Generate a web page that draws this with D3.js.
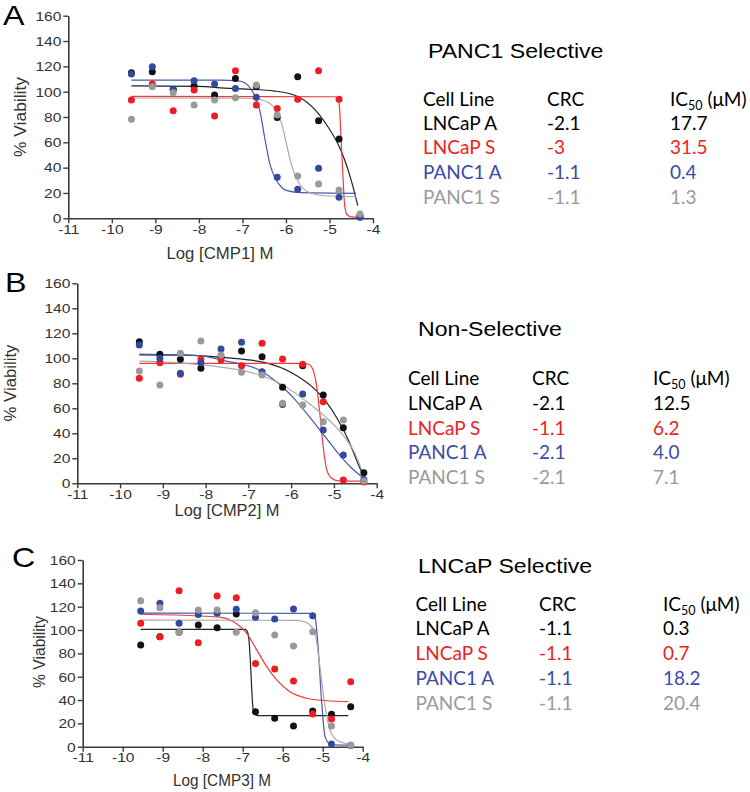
<!DOCTYPE html>
<html><head><meta charset="utf-8">
<script src="https://cdn.jsdelivr.net/npm/d3@7"></script>
<style>body{margin:0;background:#fff}svg{display:block}</style>
</head><body>
<svg id="chart" width="750" height="792"></svg>
<script>
// ---------------- DATA ----------------
const logConc = [-9.55, -9.07, -8.59, -8.11, -7.64, -7.16, -6.68, -6.2, -5.73, -5.25, -4.78, -4.3];
const cellLines = ["LNCaP A", "LNCaP S", "PANC1 A", "PANC1 S"];
const yTicks = [0, 20, 40, 60, 80, 100, 120, 140, 160];
const xTicks = [-11, -10, -9, -8, -7, -6, -5, -4];
const compounds = ["CMP1", "CMP2", "CMP3"];
const panelLetters = ["A", "B", "C"];
const tableTitles = ["PANC1 Selective", "Non-Selective", "LNCaP Selective"];

// Panel A (CMP1) measured viability
const lncapA_A = [115, 115.8, 101.8, 104.4, 97.3, 110.5, 104, 79.7, 111.8, 77.1, 62.6, 2];
const lncapS_A = [93.4, 106, 85, 101.3, 80.8, 116.5, 89.4, 86.8, 94, 116.5, 94, 1];
const panc1A_A = [114, 119.7, 101.8, 108.6, 106, 102.6, 95.5, 32.4, 22.9, 39.5, 16.6, 0.8];
const panc1S_A = [78.2, 103.9, 99.2, 89.4, 93.4, 95.2, 105.2, 81.6, 33.4, 27.1, 22.3, 3.4];
// Panel B (CMP2)
const lncapA_B = [113.3, 103.2, 99.2, 92, 101, 105.8, 101.3, 76.8, 94, 70.6, 44.5, 8.5];
const lncapS_B = [84, 96.5, 87.2, 99, 98.7, 94.1, 112, 99.4, 95.2, 65.3, 2.6, 1];
const panc1A_B = [110.7, 100, 88, 96.5, 107.5, 112.8, 89.3, 63, 71.4, 42.6, 22.6, 3];
const panc1S_B = [89.9, 78.7, 104, 113.9, 102.7, 88.8, 86.6, 64, 62.6, 49.3, 50.6, 1.8];
// Panel C (CMP3)
const lncapA_C = [87.1, 94.3, 98, 104.3, 102, 113.7, 30, 24.3, 17.7, 30.6, 27.8, 34.3];
const lncapS_C = [105.7, 94.3, 133.7, 89.1, 129.1, 127.7, 71.4, 66.6, 56.3, 28, 23.7, 55.7];
const panc1A_C = [116.3, 122.9, 105.7, 113.4, 114.3, 117.7, 110.9, 109.4, 118, 112.3, 2.3, 1];
const panc1S_C = [125.1, 119.1, 98, 117.1, 117.1, 98, 114.8, 95.7, 86.3, 98.6, 17.7, 1.4];

// Fitted curves as [logConc, viability]
const fitLncapA_A = [[-9.55,104.6],[-8,104.2],[-7.41,102.8],[-6.9,102],[-6.26,100.5],[-5.72,96],[-5.34,86],[-5.04,72.5],[-4.81,59],[-4.65,46],[-4.5,30],[-4.35,10]];
const fitLncapS_A = [[-9.55,96.3],[-4.86,96],[-4.8,94.5],[-4.77,88],[-4.73,60],[-4.69,33],[-4.65,10],[-4.6,3],[-4.5,1.2],[-4.35,1]];
const fitPanc1A_A = [[-9.55,109.2],[-7.5,109.1],[-7.1,108.5],[-6.95,107],[-6.8,102],[-6.72,97],[-6.6,85],[-6.49,64],[-6.37,43],[-6.22,30],[-6.1,24.5],[-5.99,22],[-5.65,20.2],[-4.39,19.7]];
const fitPanc1S_A = [[-9.55,95],[-6.9,94.8],[-6.56,93.5],[-6.4,91.5],[-6.26,87],[-6.1,75],[-5.99,59],[-5.88,43],[-5.72,29],[-5.5,21],[-5.11,17.8],[-4.39,17]];

const fitLncapA_B = [[-9.55,102.8],[-8.5,102.5],[-7.55,100.5],[-6.61,96.5],[-5.99,88.5],[-5.52,77.5],[-5.21,66.5],[-4.9,50.5],[-4.66,34.5],[-4.47,18.5],[-4.35,9]];
const fitLncapS_B = [[-9.55,96],[-5.72,96],[-5.6,95.2],[-5.52,93],[-5.4,77],[-5.33,56],[-5.25,29],[-5.17,11],[-5.05,4],[-4.9,2],[-4.35,1.8]];
const fitPanc1A_B = [[-9.55,103.3],[-8.13,102],[-7.55,98],[-6.77,91],[-6.3,80],[-5.91,67],[-5.52,51],[-5.21,37.5],[-4.9,24],[-4.58,12],[-4.35,5.3]];
const fitPanc1S_B = [[-9.55,97.8],[-8.13,95],[-7.55,92.5],[-6.77,87],[-6.14,77.5],[-5.68,66.5],[-5.21,53.5],[-4.82,40],[-4.51,24],[-4.35,10.6]];

const fitLncapA_C = [[-9.55,100.5],[-6.94,100.5],[-6.88,98.5],[-6.84,90],[-6.8,68],[-6.76,40],[-6.72,29],[-6.66,27],[-6.6,26.6],[-4.36,26.6]];
const fitLncapS_C = [[-9.55,113.5],[-8.07,112],[-7.57,111],[-7.23,107],[-6.9,97.2],[-6.65,83],[-6.4,68.6],[-6.15,57.2],[-5.82,47],[-5.4,41.5],[-4.9,39.4],[-4.36,38.6]];
const fitPanc1A_C = [[-9.55,114.5],[-5.32,114.3],[-5.25,113],[-5.19,110.5],[-5.11,83],[-5.03,40],[-4.94,8.6],[-4.82,2.3],[-4.6,1.4],[-4.36,1.4]];
const fitPanc1S_C = [[-9.55,108.5],[-5.65,108.3],[-5.5,107.5],[-5.36,105.5],[-5.19,97],[-5.07,68.6],[-4.94,34.3],[-4.82,14.3],[-4.65,5.7],[-4.36,2.3]];

// Tables
const crcA = ["-2.1", "-3", "-1.1", "-1.1"];
const ic50A = ["17.7", "31.5", "0.4", "1.3"];
const crcB = ["-2.1", "-1.1", "-2.1", "-2.1"];
const ic50B = ["12.5", "6.2", "4.0", "7.1"];
const crcC = ["-1.1", "-1.1", "-1.1", "-1.1"];
const ic50C = ["0.3", "0.7", "18.2", "20.4"];

// ---------------- STYLE / LAYOUT ----------------
const dotColors = ["#111111", "#ee1c24", "#2f4a9f", "#9a9a9a"];
const lineColors = ["#222222", "#f03a3a", "#4659ad", "#aaaaaa"];
const textColors = ["#000000", "#f01e1e", "#3a4ca8", "#9a9a9a"];

const panels = [
  {pts:[lncapA_A,lncapS_A,panc1A_A,panc1S_A], fits:[fitLncapA_A,fitLncapS_A,fitPanc1A_A,fitPanc1S_A], crc:crcA, ic:ic50A,
   x0:68.3, x1:373, yb:218.3, yt:15.7, letter:[3,25], xl:[220,259], xlw:107, yl:[26,117], ylw:80,
   title:[428,58], tx:[423,547,670], hy:106, rows:[130,154,178.5,203.5]},
  {pts:[lncapA_B,lncapS_B,panc1A_B,panc1S_B], fits:[fitLncapA_B,fitLncapS_B,fitPanc1A_B,fitPanc1S_B], crc:crcB, ic:ic50B,
   x0:77.3, x1:376.7, yb:483.3, yt:283.3, letter:[5,292], xl:[227,516], xlw:105, yl:[16,383], ylw:77,
   title:[418,335.5], tx:[408,532,653], hy:385, rows:[410,434.5,459,484]},
  {pts:[lncapA_C,lncapS_C,panc1A_C,panc1S_C], fits:[fitLncapA_C,fitLncapS_C,fitPanc1A_C,fitPanc1S_C], crc:crcC, ic:ic50C,
   x0:82.7, x1:362.7, yb:746.7, yt:560, letter:[12,567], xl:[222,786], xlw:98, yl:[45,652], ylw:72,
   title:[418,573], tx:[415.5,539,663], hy:611, rows:[635,659.5,685,709.5]}
];

const svg = d3.select("#chart");
svg.append("rect").attr("width",750).attr("height",792).attr("fill","#fff");
const AX = "Liberation Sans, Arial, sans-serif";
const TB = "Lato, 'Open Sans', sans-serif";

// widen text horizontally by factor k (reference glyphs are wider than Arial)
function stretch(sel, k) {
  sel.each(function () {
    const w = this.getComputedTextLength();
    d3.select(this).attr("textLength", w * k).attr("lengthAdjust", "spacingAndGlyphs");
  });
}

panels.forEach((p, pi) => {
  const x = d3.scaleLinear().domain([-11, -4]).range([p.x0, p.x1]);
  const y = d3.scaleLinear().domain([0, 160]).range([p.yb, p.yt]);
  const g = svg.append("g");

  const ya = g.append("g").attr("transform", `translate(${p.x0},0)`)
    .call(d3.axisLeft(y).tickValues(yTicks).tickSize(5).tickPadding(2).tickSizeOuter(0).tickFormat(d => String(d)));
  const xa = g.append("g").attr("transform", `translate(0,${p.yb})`)
    .call(d3.axisBottom(x).tickValues(xTicks).tickSize(5).tickPadding(1).tickSizeOuter(0).tickFormat(d => String(d)));
  [ya, xa].forEach(a => {
    a.select(".domain").attr("stroke", "#3a3a3a").attr("stroke-width", 1.6);
    a.selectAll(".tick line").attr("stroke", "#3a3a3a").attr("stroke-width", 1.4);
    const tt = a.selectAll(".tick text").attr("fill", "#333").attr("font-family", AX).attr("font-size", 13.5);
    stretch(tt, 1.15);
  });

  // axis titles
  g.append("text").attr("x", p.xl[0]).attr("y", p.xl[1]).attr("text-anchor", "middle")
    .attr("font-family", AX).attr("font-size", 16.5).attr("fill", "#333")
    .attr("textLength", p.xlw).attr("lengthAdjust", "spacingAndGlyphs")
    .text(`Log [${compounds[pi]}] M`);
  g.append("text").attr("transform", `translate(${p.yl[0]},${p.yl[1]}) rotate(-90)`)
    .attr("text-anchor", "middle").attr("font-family", AX).attr("font-size", 16.5).attr("fill", "#333")
    .attr("textLength", p.ylw).attr("lengthAdjust", "spacingAndGlyphs")
    .text("% Viability");
  // panel letter
  const lt = g.append("text").attr("x", p.letter[0]).attr("y", p.letter[1])
    .attr("font-family", AX).attr("font-size", 28).attr("fill", "#000").text(panelLetters[pi]);
  stretch(lt, 1.15);

  // curves
  const line = d3.line().x(d => x(d[0])).y(d => y(d[1])).curve(d3.curveMonotoneX);
  p.fits.forEach((f, si) => {
    g.append("path").datum(f).attr("d", line).attr("fill", "none")
      .attr("stroke", lineColors[si]).attr("stroke-width", 1.2);
  });
  // points
  p.pts.forEach((vals, si) => {
    g.append("g").selectAll("circle").data(vals).join("circle")
      .attr("cx", (d, i) => x(logConc[i])).attr("cy", d => y(d)).attr("r", 3.5)
      .attr("fill", dotColors[si]);
  });

  // table
  const t = svg.append("g");
  const ti = t.append("text").attr("x", p.title[0]).attr("y", p.title[1]).attr("font-family", AX)
    .attr("font-size", 21).attr("fill", "#000").text(tableTitles[pi]);
  stretch(ti, 1.1);
  const hdr = t.append("g").attr("font-family", TB).attr("font-size", 19).attr("fill", "#000");
  hdr.append("text").attr("x", p.tx[0]).attr("y", p.hy).text("Cell Line");
  hdr.append("text").attr("x", p.tx[1]).attr("y", p.hy).text("CRC");
  const ich = hdr.append("text").attr("x", p.tx[2]).attr("y", p.hy);
  ich.append("tspan").text("IC");
  ich.append("tspan").attr("font-size", 12.5).attr("dy", 3.5).text("50");
  ich.append("tspan").attr("dy", -3.5).text(" (\u03BCM)");
  cellLines.forEach((c, ri) => {
    const row = t.append("g").attr("font-family", TB).attr("font-size", 19).attr("fill", textColors[ri]);
    row.append("text").attr("x", p.tx[0]).attr("y", p.rows[ri]).text(c);
    row.append("text").attr("x", p.tx[1]).attr("y", p.rows[ri]).text(p.crc[ri]);
    row.append("text").attr("x", p.tx[2]).attr("y", p.rows[ri]).text(p.ic[ri]);
  });
});
</script>
</body></html>
